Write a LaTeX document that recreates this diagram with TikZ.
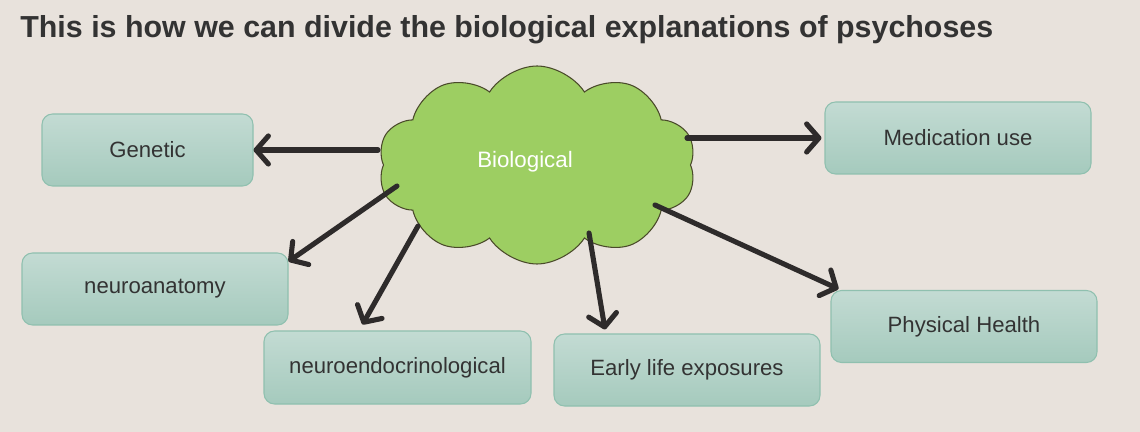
\documentclass[tikz,border=0pt]{standalone}
\usepackage{fontspec}
\setmainfont{Liberation Sans}
\usetikzlibrary{shapes.symbols,arrows.meta,calc}
\definecolor{bg}{HTML}{E8E2DC}
\definecolor{boxtop}{HTML}{C3DBD3}
\definecolor{boxbot}{HTML}{A5CABD}
\definecolor{boxline}{HTML}{8FC0AF}
\definecolor{cloudfill}{HTML}{9DCE62}
\definecolor{cloudline}{HTML}{4A4A2A}
\definecolor{txt}{HTML}{333333}
\definecolor{arr}{HTML}{2E2B2B}
\tikzset{
  catbox/.style={draw=boxline, line width=0.6pt, rounded corners=6pt,
    top color=boxtop, bottom color=boxbot, minimum width=266*0.02cm,
    minimum height=72*0.02cm, text=txt, font=\fontsize{12.6pt}{15pt}\selectfont, inner sep=0pt},
  link/.style={draw=arr, line width=2.9pt, line cap=round, line join=round,
    -{Straight Barb[length=7pt,width=16pt,line cap=round,line join=round]}},
}
\begin{document}
\begin{tikzpicture}[x=0.02cm,y=-0.02cm]
\fill[bg] (0,0) rectangle (1140,432);
\useasboundingbox (0,0) rectangle (1140,432);
\node[anchor=west, font=\bfseries\fontsize{17.3pt}{20pt}\selectfont, text=txt, inner sep=0pt] (title) at (20,30) {This is how we can divide the biological explanations of psychoses};
\node[cloud, cloud puffs=10, cloud puff arc=115, aspect=1.6, fill=cloudfill, draw=cloudline, line width=0.6pt,
  minimum width=318*0.02cm, minimum height=198*0.02cm, inner sep=0pt] (cloud) at (537,165) {};
\node[text=white, font=\fontsize{12.7pt}{15pt}\selectfont] (biol) at (525,162) {Biological};
\node[catbox, minimum width=211*0.02cm] (gen) at (147.5,150) {\raisebox{-1pt}{Genetic}};
\node[catbox] (med) at (958,138) {\raisebox{-1pt}{Medication use}};
\node[catbox] (nana) at (155,289) {\raisebox{-1pt}{neuroanatomy}};
\node[catbox, minimum width=267*0.02cm, minimum height=73*0.02cm] (nendo) at (397.5,367.5) {\raisebox{-1pt}{neuroendocrinological}};
\node[catbox] (early) at (687,370) {\raisebox{-1pt}{Early life exposures}};
\node[catbox] (phys) at (964,326.5) {\raisebox{-1pt}{Physical Health}};
\draw[link] ($(cloud)+(-159,-15)$) -- (gen.east);
\draw[link] ($(cloud)+(150,-27)$) -- ($(med.west)+(-3,0)$);
\draw[link] ($(cloud)+(-140,21)$) -- ($(nana.north east)+(0,9)$);
\draw[link] ($(cloud)+(-119,61)$) -- ($(nendo.north)+(-35,-6)$);
\draw[link] ($(cloud)+(52,68)$) -- ($(early.north)+(-82,-4)$);
\draw[link] ($(cloud)+(118,40)$) -- ($(phys.north west)+(8,-1)$);
\end{tikzpicture}
\end{document}
